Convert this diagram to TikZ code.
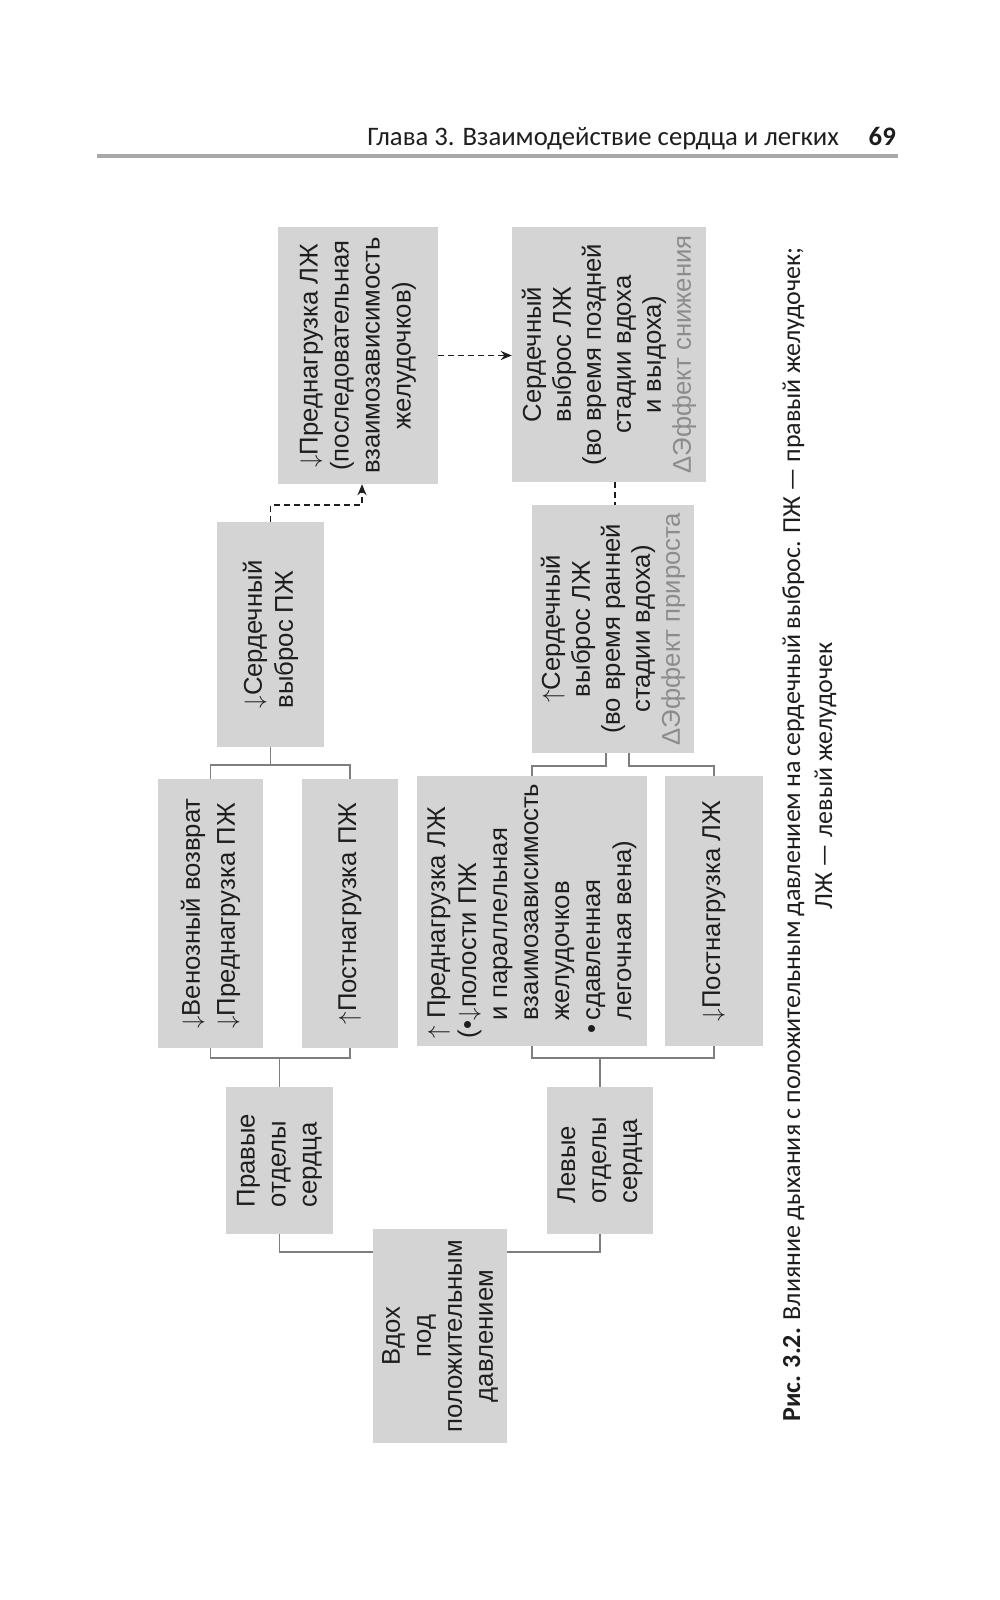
\documentclass[tikz,border=0pt]{standalone}
\usepackage{fontspec}
\usetikzlibrary{arrows.meta,positioning,calc}
\newfontfamily\diagfont{Liberation Sans}
\newfontfamily\capfont{Carlito}
\definecolor{Panel}{HTML}{D4D4D4}
\definecolor{Ink}{HTML}{1E1E1E}
\definecolor{Muted}{HTML}{8C8C8C}
\definecolor{Wire}{HTML}{7E7E7E}
\definecolor{Rule}{HTML}{A8A8A8}
\newcommand{\dn}{$\downarrow$}
\newcommand{\up}{$\uparrow$}

\begin{document}
\begin{tikzpicture}[x=1pt,y=-1pt,
    panel/.style={rotate=90,fill=Panel,text=Ink,inner sep=0pt,align=left,
      font=\diagfont\fontsize{25.7}{31}\selectfont},
    tight/.style={font=\diagfont\fontsize{25.7}{30}\selectfont},
    wire/.style={draw=Wire,line width=1.5pt},
    hint/.style={draw=Ink,line width=1.8pt,dash pattern=on 6pt off 4pt},
    tip/.style={-{Stealth[length=11pt,width=9pt]}},
    caption/.style={rotate=90,inner sep=0pt,text=Ink,font=\capfont\fontsize{26}{32}\selectfont}]
    \fill[white] (0,0) rectangle (1000,1600);
    \useasboundingbox (0,0) rectangle (1000,1600);

    \node[anchor=base east,inner sep=0pt,text=Ink,font=\capfont\fontsize{26.7}{30}\selectfont] (runhead) at (839,146) {Глава 3. Взаимодействие сердца и легких};
    \node[anchor=base east,inner sep=0pt,text=Ink,font=\capfont\bfseries\fontsize{26.7}{30}\selectfont] (folio) at (896,146) {69};
    \draw[draw=Rule,line width=4pt] (97,156) -- (898,156);

    \node[panel,align=center,minimum width=214,minimum height=134] (inspir) at (440,1336) {Вдох\\под\\положительным\\давлением};
    \node[panel,minimum width=147,minimum height=107] (rheart) at (279.5,1160.5) {Правые\\отделы\\сердца};
    \node[panel,minimum width=147,minimum height=106] (lheart) at (600,1160.5) {Левые\\отделы\\сердца};

    \node[panel,minimum width=269,minimum height=105,font=\diagfont\fontsize{25.7}{35}\selectfont] (venous) at (210.5,913.5) {\dn Венозный возврат\\\dn Преднагрузка ПЖ};
    \node[panel,minimum width=269,minimum height=96] (rvafter) at (350,913.5) {\up Постнагрузка ПЖ};
    \node[panel,minimum width=270,minimum height=230] (lvpre) at (532,911) {\up\ Преднагрузка ЛЖ\\\makebox[18pt][l]{(•}\dn полости ПЖ\\\hspace*{18pt}и параллельная\\\hspace*{18pt}взаимозависимость\\\hspace*{18pt}желудочков\\\makebox[18pt][c]{•}сдавленная\\\hspace*{18pt}легочная вена)};
    \node[panel,minimum width=270,minimum height=98] (lvafter) at (714,911) {\dn Постнагрузка ЛЖ};

    \node[panel,minimum width=225,minimum height=107] (rvout) at (270.5,634.5) {\dn Сердечный\\выброс ПЖ};
    \node[panel,tight,align=center,minimum width=248,minimum height=162] (lvearly) at (613,629) {\up Сердечный\\выброс ЛЖ\\(во время ранней\\стадии вдоха)\\\textcolor{Muted}{ΔЭффект прироста}};
    \node[panel,align=center,minimum width=257,minimum height=160] (lvseq) at (358,355.5) {\dn Преднагрузка ЛЖ\\(последовательная\\взаимозависимость\\желудочков)};
    \node[panel,tight,align=center,minimum width=255,minimum height=194] (lvlate) at (609,354.5) {Сердечный\\выброс ЛЖ\\(во время поздней\\стадии вдоха\\и выдоха)\\\textcolor{Muted}{ΔЭффект снижения}};

    \draw[wire] (venous.east) -- ++(0,-14) coordinate (rvtop) -| (rvafter.east);
    \draw[wire] (rvout.west) -- (rvout.west |- rvtop);
    \draw[wire] (venous.west) -- ++(0,10) coordinate (rvbot) -| (rvafter.west);
    \draw[wire] (rheart.east) -- (rheart.east |- rvbot);
    \draw[wire] (lvpre.east) -- ++(0,-10) -| ([xshift=-7pt]lvearly.west);
    \draw[wire] (lvafter.east) -- ++(0,-10) -| ([xshift=16pt]lvearly.west);
    \draw[wire] (lvpre.west) -- ++(0,12) coordinate (lvbot) -| (lvafter.west);
    \draw[wire] (lheart.east) -- (lheart.east |- lvbot);
    \draw[wire] ([yshift=-23pt]inspir.north east) -| (rheart.west);
    \draw[wire] ([yshift=-23pt]inspir.south east) -| (lheart.west);

    \draw[hint,tip] (rvout.east) -- ++(0,-17) -| ([xshift=4pt]lvseq.west);
    \draw[hint,tip] (lvseq.south) -- (lvseq.south -| lvlate.north);
    \draw[hint] ([xshift=6pt]lvlate.west) -- ([xshift=6pt]lvlate.west |- lvearly.east);

    \node[caption,anchor=base west] (figcap) at (800,1422) {\hbox to 1174pt{\textbf{Рис. 3.2.} Влияние дыхания с положительным давлением на сердечный выброс. ПЖ — правый желудочек;}};
    \node[caption,anchor=base] (figcaptail) at (832,776) {ЛЖ — левый желудочек};
  \end{tikzpicture}
\end{document}
